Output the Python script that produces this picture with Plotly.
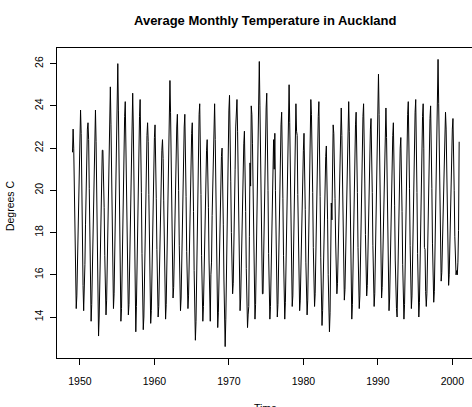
import plotly.graph_objects as go

start_year = 1949
year_ticks = [1950, 1960, 1970, 1980, 1990, 2000]
temp_ticks = [14, 16, 18, 20, 22, 24, 26]

# Monthly average temperature (deg C), Jan..Dec
t1949 = [21.8, 22.9, 22.0, 19.8, 17.5, 15.4, 14.4, 15.0, 16.3, 17.9, 19.6, 21.6]
t1950 = [22.6, 23.8, 22.7, 19.6, 17.6, 15.5, 14.3, 15.1, 16.5, 18.4, 20.2, 21.9]
t1951 = [22.9, 23.2, 22.4, 20.1, 17.2, 15.0, 13.8, 14.6, 16.1, 18.0, 20.3, 22.0]
t1952 = [22.8, 23.8, 22.3, 19.7, 16.8, 14.4, 13.1, 14.0, 15.8, 17.6, 19.5, 21.0]
t1953 = [21.9, 21.9, 21.0, 19.2, 16.9, 15.1, 14.1, 14.8, 16.4, 18.3, 20.6, 22.8]
t1954 = [23.6, 24.9, 23.1, 20.6, 17.8, 15.6, 14.4, 15.1, 16.9, 19.0, 21.4, 23.4]
t1955 = [24.6, 26.0, 23.8, 20.9, 17.6, 15.0, 13.8, 14.4, 16.2, 18.5, 20.9, 22.8]
t1956 = [23.5, 24.2, 21.9, 20.1, 17.4, 15.2, 14.1, 14.6, 16.5, 18.6, 21.0, 23.0]
t1957 = [23.7, 24.6, 23.0, 20.2, 17.1, 14.6, 13.3, 14.5, 16.6, 17.0, 20.5, 22.8]
t1958 = [23.5, 24.3, 22.6, 19.9, 17.0, 14.7, 13.4, 14.0, 15.7, 17.8, 20.0, 21.9]
t1959 = [22.6, 23.2, 22.3, 19.8, 17.0, 14.9, 13.7, 14.3, 16.0, 18.0, 20.2, 22.1]
t1960 = [22.5, 23.1, 22.0, 19.6, 17.2, 15.0, 14.0, 14.5, 16.2, 18.0, 19.9, 21.6]
t1961 = [21.9, 22.4, 21.5, 19.5, 17.0, 15.0, 13.9, 14.6, 16.4, 18.6, 21.2, 23.5]
t1962 = [24.3, 25.2, 23.7, 21.0, 18.1, 16.0, 14.9, 15.4, 16.9, 18.9, 21.0, 22.7]
t1963 = [23.0, 23.6, 22.4, 20.0, 17.4, 15.3, 14.3, 14.9, 16.6, 18.6, 20.8, 22.6]
t1964 = [23.0, 23.6, 22.2, 19.7, 17.1, 14.9, 14.4, 15.0, 16.6, 18.5, 20.5, 22.3]
t1965 = [22.7, 23.2, 21.8, 19.0, 16.2, 14.0, 12.9, 13.8, 15.8, 18.2, 20.8, 22.9]
t1966 = [23.6, 24.1, 22.5, 19.8, 16.9, 14.8, 13.8, 14.5, 16.1, 18.0, 20.0, 21.6]
t1967 = [21.9, 22.4, 21.3, 19.2, 16.7, 14.8, 13.8, 16.0, 16.6, 18.8, 20.6, 22.5]
t1968 = [22.5, 24.1, 22.4, 19.6, 16.7, 14.6, 13.5, 14.2, 15.9, 17.9, 19.9, 21.3]
t1969 = [21.6, 22.0, 20.8, 18.4, 15.8, 13.8, 12.6, 13.9, 16.3, 16.0, 19.6, 22.2]
t1970 = [23.8, 24.5, 23.0, 20.4, 18.0, 16.1, 15.1, 15.6, 17.0, 18.9, 21.0, 23.0]
t1971 = [23.6, 24.3, 22.8, 20.1, 17.4, 15.3, 14.3, 14.9, 16.6, 18.4, 20.3, 21.9]
t1972 = [22.2, 22.8, 21.6, 19.0, 16.3, 14.5, 13.5, 14.1, 14.5, 17.8, 21.3, 20.2]
t1973 = [24.0, 23.6, 22.2, 19.5, 16.8, 14.9, 13.9, 14.6, 16.5, 18.8, 21.5, 23.8]
t1974 = [24.9, 26.1, 24.0, 21.0, 18.2, 16.1, 15.1, 15.1, 17.0, 19.2, 21.6, 23.3]
t1975 = [23.9, 24.6, 22.9, 20.0, 17.0, 14.9, 13.9, 14.5, 16.2, 18.2, 20.2, 22.0]
t1976 = [22.4, 21.0, 22.7, 20.0, 17.2, 15.0, 14.0, 14.6, 16.3, 18.4, 20.7, 22.6]
t1977 = [23.1, 23.7, 22.3, 19.6, 16.9, 14.7, 13.9, 14.7, 16.6, 18.8, 21.2, 23.2]
t1978 = [24.0, 25.0, 23.2, 20.4, 17.6, 15.5, 14.5, 15.0, 16.6, 18.6, 20.8, 22.6]
t1979 = [24.1, 22.8, 22.6, 19.8, 17.2, 15.3, 14.3, 14.8, 16.3, 18.0, 19.9, 21.9]
t1980 = [21.9, 22.7, 21.4, 19.1, 16.6, 14.9, 14.1, 14.8, 16.6, 18.9, 21.4, 23.4]
t1981 = [24.3, 23.6, 22.4, 19.9, 17.3, 15.4, 14.5, 15.1, 16.8, 18.9, 21.2, 23.2]
t1982 = [23.5, 24.2, 22.6, 19.7, 16.8, 14.6, 13.6, 14.3, 16.0, 17.9, 19.8, 21.3]
t1983 = [21.6, 22.1, 20.9, 18.6, 16.0, 14.2, 13.3, 14.2, 16.3, 19.4, 18.6, 21.5]
t1984 = [23.1, 22.7, 21.6, 19.6, 17.6, 15.9, 15.1, 15.6, 17.0, 18.9, 21.0, 22.8]
t1985 = [23.3, 23.9, 22.6, 20.1, 17.5, 15.7, 14.8, 15.3, 16.8, 18.7, 20.9, 22.9]
t1986 = [23.6, 24.2, 22.8, 20.0, 17.1, 14.9, 13.9, 14.6, 16.3, 18.4, 20.6, 22.4]
t1987 = [23.1, 23.7, 22.4, 19.9, 17.3, 15.3, 14.4, 15.0, 16.7, 18.8, 21.0, 22.9]
t1988 = [23.5, 24.1, 22.8, 20.3, 17.9, 15.9, 15.0, 15.5, 16.9, 18.7, 20.8, 22.6]
t1989 = [22.9, 23.4, 22.3, 19.9, 17.4, 15.5, 14.5, 15.1, 16.9, 19.2, 21.8, 24.0]
t1990 = [24.6, 25.5, 23.6, 20.7, 17.9, 15.9, 14.9, 15.4, 16.9, 18.8, 20.9, 22.7]
t1991 = [23.3, 23.9, 22.5, 19.9, 17.2, 15.2, 14.3, 14.9, 16.5, 18.5, 20.6, 22.4]
t1992 = [22.6, 23.2, 21.8, 19.3, 16.7, 14.9, 14.4, 14.0, 15.9, 17.9, 19.9, 21.6]
t1993 = [22.0, 22.5, 21.3, 19.0, 16.5, 14.7, 13.9, 14.6, 16.4, 18.8, 21.3, 23.3]
t1994 = [23.6, 24.2, 22.8, 20.1, 17.4, 15.4, 14.4, 15.0, 16.8, 19.0, 21.4, 23.3]
t1995 = [23.7, 24.3, 22.7, 19.9, 17.0, 15.0, 14.0, 14.7, 16.5, 18.7, 21.0, 23.0]
t1996 = [23.5, 24.1, 22.0, 17.3, 17.2, 15.2, 14.5, 15.1, 16.8, 18.9, 21.2, 23.0]
t1997 = [23.4, 24.0, 22.6, 20.1, 17.5, 15.6, 14.7, 15.2, 16.9, 19.2, 21.8, 24.0]
t1998 = [24.9, 26.2, 24.1, 21.3, 18.6, 16.6, 15.7, 16.1, 17.5, 19.3, 21.0, 22.3]
t1999 = [22.3, 23.7, 22.9, 20.5, 18.0, 16.3, 15.5, 16.0, 17.4, 19.3, 21.3, 22.9]
t2000 = [22.9, 23.4, 22.2, 20.0, 17.8, 16.4, 16.0, 16.2, 16.0, 16.6, 18.1, 22.3]

years = [t1949, t1950, t1951, t1952, t1953, t1954, t1955, t1956, t1957, t1958,
         t1959, t1960, t1961, t1962, t1963, t1964, t1965, t1966, t1967, t1968,
         t1969, t1970, t1971, t1972, t1973, t1974, t1975, t1976, t1977, t1978,
         t1979, t1980, t1981, t1982, t1983, t1984, t1985, t1986, t1987, t1988,
         t1989, t1990, t1991, t1992, t1993, t1994, t1995, t1996, t1997, t1998,
         t1999, t2000]
temps = [v for yr in years for v in yr]
time = [start_year + i / 12 for i in range(len(temps))]

font_family = "Liberation Sans, Arial, Helvetica, sans-serif"

fig = go.Figure()
fig.add_trace(go.Scatter(x=time, y=temps, mode="lines",
                         line=dict(color="black", width=1), showlegend=False,
                         hoverinfo="skip"))

fig.update_layout(
    width=472, height=407,
    margin=dict(l=57, r=0, t=48, b=49),
    paper_bgcolor="white", plot_bgcolor="white",
    font=dict(family=font_family, color="black", size=10.5),
    xaxis=dict(range=[1946.92, 2002.64], tickvals=year_ticks,
               ticks="outside", ticklen=6, tickcolor="black", tickwidth=1,
               showline=True, linecolor="black", linewidth=1, mirror=True,
               showgrid=False, zeroline=False, ticklabelstandoff=7,
               automargin=False, tickfont=dict(size=10.5)),
    yaxis=dict(range=[12.06, 26.74], tickvals=temp_ticks, tickangle=-90,
               ticks="outside", ticklen=6, tickcolor="black", tickwidth=1,
               showline=True, linecolor="black", linewidth=1, mirror=False,
               showgrid=False, zeroline=False, ticklabelstandoff=3,
               automargin=False, tickfont=dict(size=10.5)),
    annotations=[
        dict(text="<b>Average Monthly Temperature in Auckland</b>",
             x=1974.96, xref="x", y=(358 - 20.7) / 310, yref="paper",
             showarrow=False, xanchor="center", yanchor="middle",
             font=dict(size=13)),
        dict(text="Degrees C", x=(10 - 57) / 415, xref="paper", y=0.49,
             yref="paper", textangle=-90, showarrow=False,
             xanchor="center", yanchor="middle", font=dict(size=10.5)),
        dict(text="Time", x=1974.96, xref="x", y=(358 - 408) / 310,
             yref="paper", showarrow=False, xanchor="center",
             yanchor="middle", font=dict(size=10.5)),
    ],
)

# Remove the browser's default 8px body margin so the figure fills the view.
fig.write_html("out.html",
               config={"displayModeBar": False, "staticPlot": True},
               post_script="document.body.style.margin='0';"
                           "document.body.style.overflow='hidden';")
